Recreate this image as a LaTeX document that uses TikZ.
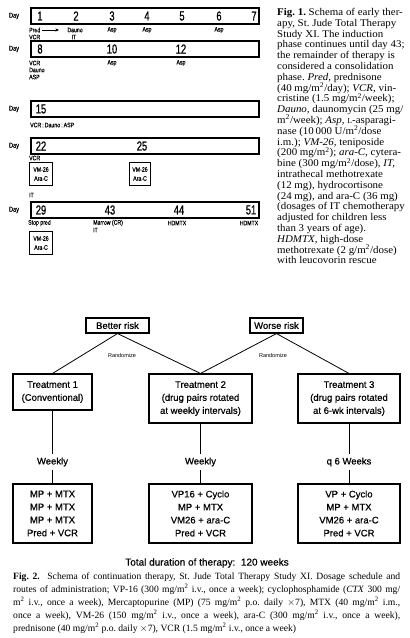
\documentclass[tikz,border=0pt]{standalone}
\usepackage{fontspec}
\usetikzlibrary{arrows.meta}
\setmainfont{Liberation Serif}
\newfontfamily\capfont[FakeStretch=1.06]{Liberation Serif}
\newfontfamily\hv[FakeBold=0.5]{Liberation Sans}
\newfontfamily\hvr{Liberation Sans}
\newfontfamily\cnd[FakeStretch=0.8,FakeBold=0.3]{Liberation Sans}
\newfontfamily\cndn[FakeStretch=0.72,FakeBold=0.8]{Liberation Sans}
\newcommand{\smL}{{\fontsize{7.5}{7.5}\selectfont L}}
\frenchspacing
\begin{document}
\frenchspacing
\begin{tikzpicture}[x=1pt,y=-1pt,
  rowbox/.style={draw, line width=1.4pt, minimum width=228pt, minimum height=16pt, inner sep=0pt},
  daylab/.style={font=\cnd\fontsize{7}{7}\selectfont, inner sep=0pt},
  num/.style={font=\cndn\fontsize{13}{13}\selectfont, inner sep=0pt},
  lab/.style={font=\cnd\fontsize{6.5}{6.5}\selectfont, inner sep=0pt},
  labw/.style={lab, anchor=west},
  vmbox/.style={draw, line width=1.1pt, minimum width=23pt, minimum height=23pt, inner sep=0pt, align=center, font=\cnd\fontsize{6.5}{9}\selectfont},
  riskbox/.style={draw, line width=1.1pt, font=\hv\fontsize{9.5}{11}\selectfont, minimum height=15pt, inner sep=1pt},
  tbox/.style={draw, line width=1.1pt, align=center, font=\hv\fontsize{9.5}{13}\selectfont, inner sep=0pt},
  conn/.style={line width=0.8pt},
  freq/.style={font=\hv\fontsize{9.5}{11}\selectfont, inner sep=3pt},
  rand/.style={font=\hvr\fontsize{5.5}{6}\selectfont, inner sep=0pt}
]
\useasboundingbox (0,0) rectangle (410,638);
\fill[white] (0,0) rectangle (410,638);

% ---------- Fig. 1 ----------
% row 1
\node[daylab] (d1) at (14,16) {Day};
\node[rowbox] (r1) at (145,16) {};
\node[num] (n1) at (40,16) {1};
\node[num] (n2) at (76,16) {2};
\node[num] (n3) at (112,16) {3};
\node[num] (n4) at (147,16) {4};
\node[num] (n5) at (182,16) {5};
\node[num] (n6) at (219,16) {6};
\node[num] (n7) at (254,16) {7};
\node[labw] (pred) at (29,30) {Pred};
\coordinate (predarr) at (59,30);
\draw[-{Stealth[length=3.5pt,width=3pt]}, line width=0.7pt] ([xshift=2pt]pred.east) -- (predarr);
\node[labw] (vcr1) at (29,37) {VCR};
\node[lab] (dauno1) at (75,30) {Dauno};
\node[lab] (it1) at (74,37) {IT};
\node[lab] (asp3) at (112,30) {Asp};
\node[lab] (asp4) at (147,30) {Asp};
\node[lab] (asp6) at (219,30) {Asp};

% row 2
\node[daylab] (d2) at (14,49) {Day};
\node[rowbox] (r2) at (145,49) {};
\node[num] (n8) at (40,49) {8};
\node[num] (n10) at (112,49) {10};
\node[num] (n12) at (181,49) {12};
\node[labw] (vcr2) at (29,63) {VCR};
\node[labw] (dauno2) at (29,70) {Dauno};
\node[labw] (asp8) at (29,77) {ASP};
\node[lab] (asp10) at (112,63) {Asp};
\node[lab] (asp12) at (181,63) {Asp};

% row 3
\node[daylab] (d3) at (14,109) {Day};
\node[rowbox] (r3) at (145,109) {};
\node[num] (n15) at (41,109) {15};
\node[labw] (vda) at (30,125) {VCR\,:\,Dauno\,:\,ASP};

% row 4
\node[daylab] (d4) at (14,146) {Day};
\node[rowbox] (r4) at (145,146) {};
\node[num] (n22) at (41,146) {22};
\node[num] (n25) at (142,146) {25};
\node[labw] (vcr4) at (29,158) {VCR};
\node[vmbox] (vm1) at (41,174) {VM-26\\Ara-C};
\node[vmbox, minimum width=21pt] (vm2) at (140,174) {VM-26\\Ara-C};
\node[labw] (it4) at (29,195) {IT};

% row 5
\node[daylab] (d5) at (14,210) {Day};
\node[rowbox] (r5) at (145,210) {};
\node[num] (n29) at (41,210) {29};
\node[num] (n43) at (110,210) {43};
\node[num] (n44) at (179,210) {44};
\node[num] (n51) at (251,210) {51};
\node[labw] (stop) at (28,223) {Stop pred};
\node[labw] (marrow) at (93,223) {Marrow (CR)};
\node[labw] (it5) at (93,230) {IT};
\node[lab] (hd44) at (177,223) {HDMTX};
\node[lab] (hd51) at (249,223) {HDMTX};
\node[vmbox] (vm3) at (41,243) {VM-26\\Ara-C};

% caption fig 1
\node[anchor=north west, inner sep=0pt, align=left, font=\capfont\fontsize{10.3}{10.8}\selectfont] (cap1) at (277,8) {%
\textbf{Fig. 1.} Schema of early ther-\\
apy, St. Jude Total Therapy\\
Study XI. The induction\\
phase continues until day 43;\\
the remainder of therapy is\\
considered a consolidation\\
phase. \textit{Pred,} prednisone\\
(40 mg/m\textsuperscript{2}/day); \textit{VCR,} vin-\\
cristine (1.5 mg/m\textsuperscript{2}/week);\\
\textit{Dauno,} daunomycin (25 mg/\\
m\textsuperscript{2}/week); \textit{Asp,} \smL-asparagi-\\
nase (10\,000 U/m\textsuperscript{2}/dose\\
i.m.); \textit{VM-26,} teniposide\\
(200 mg/m\textsuperscript{2}); \textit{ara-C,} cytera-\\
bine (300 mg/m\textsuperscript{2}/dose), \textit{IT,}\\
intrathecal methotrexate\\
(12 mg), hydrocortisone\\
(24 mg), and ara-C (36 mg)\\
(dosages of IT chemotherapy\\
adjusted for children less\\
than 3 years of age).\\
\textit{HDMTX,} high-dose\\
methotrexate (2 g/m\textsuperscript{2}/dose)\\
with leucovorin rescue};

% ---------- Fig. 2 ----------
\node[riskbox, minimum width=63pt] (better) at (117.5,325.5) {Better risk};
\node[riskbox, minimum width=53pt] (worse) at (276.5,325.5) {Worse risk};
\node[tbox, minimum width=79pt, minimum height=36pt] (t1) at (52.5,392) {Treatment 1\\(Conventional)};
\node[tbox, minimum width=103pt, minimum height=49pt] (t2) at (200.5,398.5) {Treatment 2\\(drug pairs rotated\\at weekly intervals)};
\node[tbox, minimum width=102pt, minimum height=49pt] (t3) at (349,398.5) {Treatment 3\\(drug pairs rotated\\at 6-wk intervals)};
\draw[conn] (better.south) -- (t1.north);
\draw[conn] (better.south) -- (t2.north);
\draw[conn] (worse.south) -- (t2.north);
\draw[conn] (worse.south) -- (t3.north);
\node[rand] (rand1) at (122,356) {Randomize};
\node[rand] (rand2) at (273,356) {Randomize};

\node[freq] (f1) at (52.5,462) {Weekly};
\node[freq] (f2) at (200.5,462) {Weekly};
\node[freq] (f3) at (349,462) {q 6 Weeks};

\node[tbox, minimum width=79pt, minimum height=59pt] (b1) at (52.5,513.5) {MP + MTX\\MP + MTX\\MP + MTX\\Pred + VCR};
\node[tbox, minimum width=103pt, minimum height=59pt] (b2) at (200.5,513.5) {VP16 + Cyclo\\MP + MTX\\VM26 + ara-C\\Pred + VCR};
\node[tbox, minimum width=102pt, minimum height=59pt] (b3) at (349,513.5) {VP + Cyclo\\MP + MTX\\VM26 + ara-C\\Pred + VCR};

\draw[conn] (t1.south) -- (f1.north);
\draw[conn] (f1.south) -- (b1.north);
\draw[conn] (t2.south) -- (f2.north);
\draw[conn] (f2.south) -- (b2.north);
\draw[conn] (t3.south) -- (f3.north);
\draw[conn] (f3.south) -- (b3.north);

\node[font=\hv\fontsize{10}{12}\selectfont, inner sep=0pt] (total) at (207,563) {Total duration of therapy:\ \ 120 weeks};

\node[anchor=north west, inner sep=0pt, text width=387pt, align=justify, font=\frenchspacing\fontsize{9.6}{13}\selectfont] (cap2) at (13,572.5) {%
\textbf{Fig. 2.}\ \ Schema of continuation therapy, St.~Jude Total Therapy Study XI. Dosage schedule and\linebreak
routes of administration; VP-16 (300 mg/m\textsuperscript{2} i.v., once a week); cyclophosphamide (\textit{CTX} 300 mg/\linebreak
m\textsuperscript{2} i.v., once a week), Mercaptopurine (MP) (75 mg/m\textsuperscript{2} p.o. daily $\times$7), MTX (40 mg/m\textsuperscript{2} i.m.,\linebreak
once a week), VM-26 (150 mg/m\textsuperscript{2} i.v., once a week), ara-C (300 mg/m\textsuperscript{2} i.v., once a week),\linebreak
prednisone (40 mg/m\textsuperscript{2} p.o. daily $\times$7), VCR (1.5 mg/m\textsuperscript{2} i.v., once a week)};
\end{tikzpicture}
\end{document}
